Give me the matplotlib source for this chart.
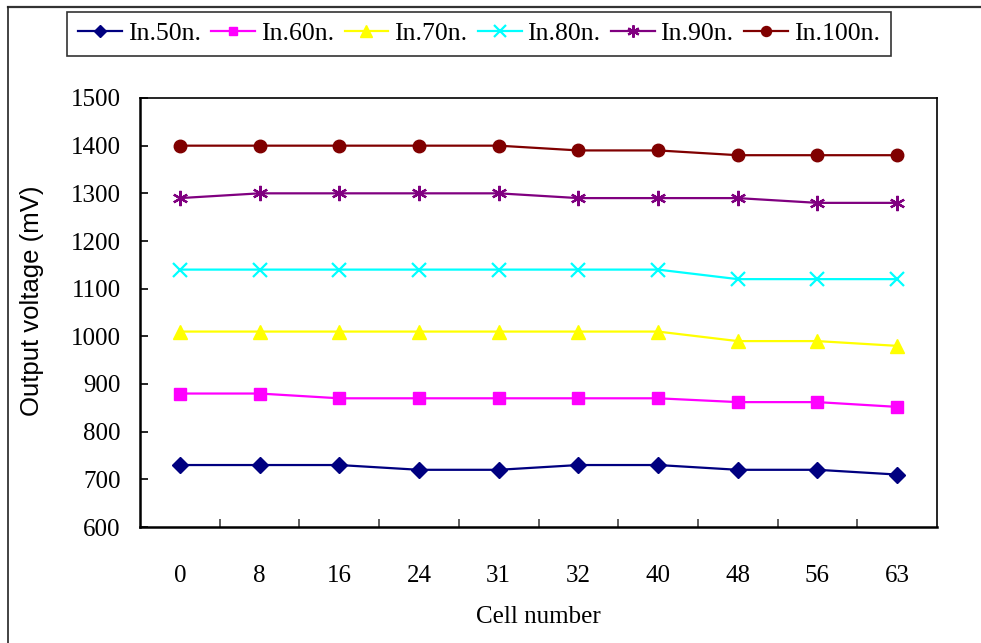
import matplotlib
matplotlib.use("Agg")
import matplotlib.pyplot as plt
from matplotlib.lines import Line2D
import numpy as np

# Cell indices along the x axis (categorical)
cells = ["0", "8", "16", "24", "31", "32", "40", "48", "56", "63"]

# Output voltage (mV) for each input level
in50 = [730, 730, 730, 720, 720, 730, 730, 720, 720, 710]
in60 = [880, 880, 870, 870, 870, 870, 870, 862, 862, 852]
in70 = [1010, 1010, 1010, 1010, 1010, 1010, 1010, 990, 990, 980]
in80 = [1140, 1140, 1140, 1140, 1140, 1140, 1140, 1120, 1120, 1120]
in90 = [1290, 1300, 1300, 1300, 1300, 1290, 1290, 1290, 1280, 1280]
in100 = [1400, 1400, 1400, 1400, 1400, 1390, 1390, 1380, 1380, 1380]

series_labels = ["In.50n.", "In.60n.", "In.70n.", "In.80n.", "In.90n.", "In.100n."]
y_ticks = [600, 700, 800, 900, 1000, 1100, 1200, 1300, 1400, 1500]

serif = "Liberation Serif"
sans = "Liberation Sans"

fig = plt.figure(figsize=(9.81, 6.43), dpi=100)
ax = fig.add_axes([140 / 981, 1 - 527 / 643, (937 - 140) / 981, (527 - 98) / 643])

x = np.arange(len(cells))
styles = [
    (in50, "#000080", "D", 8, {}),
    (in60, "#FF00FF", "s", 8, {}),
    (in70, "#FFFF00", "^", 10, {}),
    (in80, "#00FFFF", "x", 10, {"markeredgewidth": 1.6}),
    (in90, "#800080", (6, 2, 0), 11, {"markeredgewidth": 1.6}),
    (in100, "#800000", "o", 9, {}),
]
for (vals, color, marker, ms, extra), lab in zip(styles, series_labels):
    ax.plot(x, vals, color=color, marker=marker, markersize=ms, linewidth=1.6,
            markerfacecolor=color, markeredgecolor=color, label=lab, **extra)

ax.set_xlim(-0.5, len(cells) - 0.5)
ax.set_ylim(600, 1500)
ax.set_yticks(y_ticks)
ax.set_yticklabels([str(v) for v in y_ticks], fontfamily=serif, fontsize=18)
ax.set_xticks(x)
ax.set_xticklabels(cells, fontfamily=serif, fontsize=18)
ax.set_xticks(np.arange(0.5, len(cells) - 1, 1.0), minor=True)
ax.tick_params(axis="x", which="major", length=0, pad=27)
ax.tick_params(axis="x", which="minor", direction="in", length=6, width=1.2, color="#444444")
ax.tick_params(axis="y", which="major", direction="in", length=6, width=1.2, pad=14)

for side in ["left", "bottom"]:
    ax.spines[side].set_linewidth(1.8)
for side in ["top", "right"]:
    ax.spines[side].set_linewidth(1.2)

fig.text(538 / 981, 1 - 617 / 643, "Cell number", fontfamily=serif, fontsize=18,
         ha="center", va="center")
fig.text(32 / 981, 1 - 301 / 643, "Output voltage (mV)", fontfamily=sans, fontsize=18.5,
         rotation=90, ha="center", va="center")

leg = fig.legend(loc="center", bbox_to_anchor=(479 / 981, 1 - 34 / 643), ncol=6,
                 prop={"family": serif, "size": 18.5}, frameon=True, fancybox=False,
                 edgecolor="black", handlelength=1.7, handletextpad=0.22,
                 columnspacing=0.42, borderpad=0.42, borderaxespad=0)
leg.get_frame().set_linewidth(1.2)
for h in leg.legend_handles:
    h.set_markersize(h.get_markersize() * 0.8)

# Outer frame along the top and left edges
fig.add_artist(Line2D([8 / 981, 1.0], [1 - 7 / 643, 1 - 7 / 643], color="#333333",
                      linewidth=1.6, transform=fig.transFigure))
fig.add_artist(Line2D([8 / 981, 8 / 981], [1 - 7 / 643, 0.0], color="#222222",
                      linewidth=1.2, transform=fig.transFigure))

fig.savefig("out.png", dpi=100)
